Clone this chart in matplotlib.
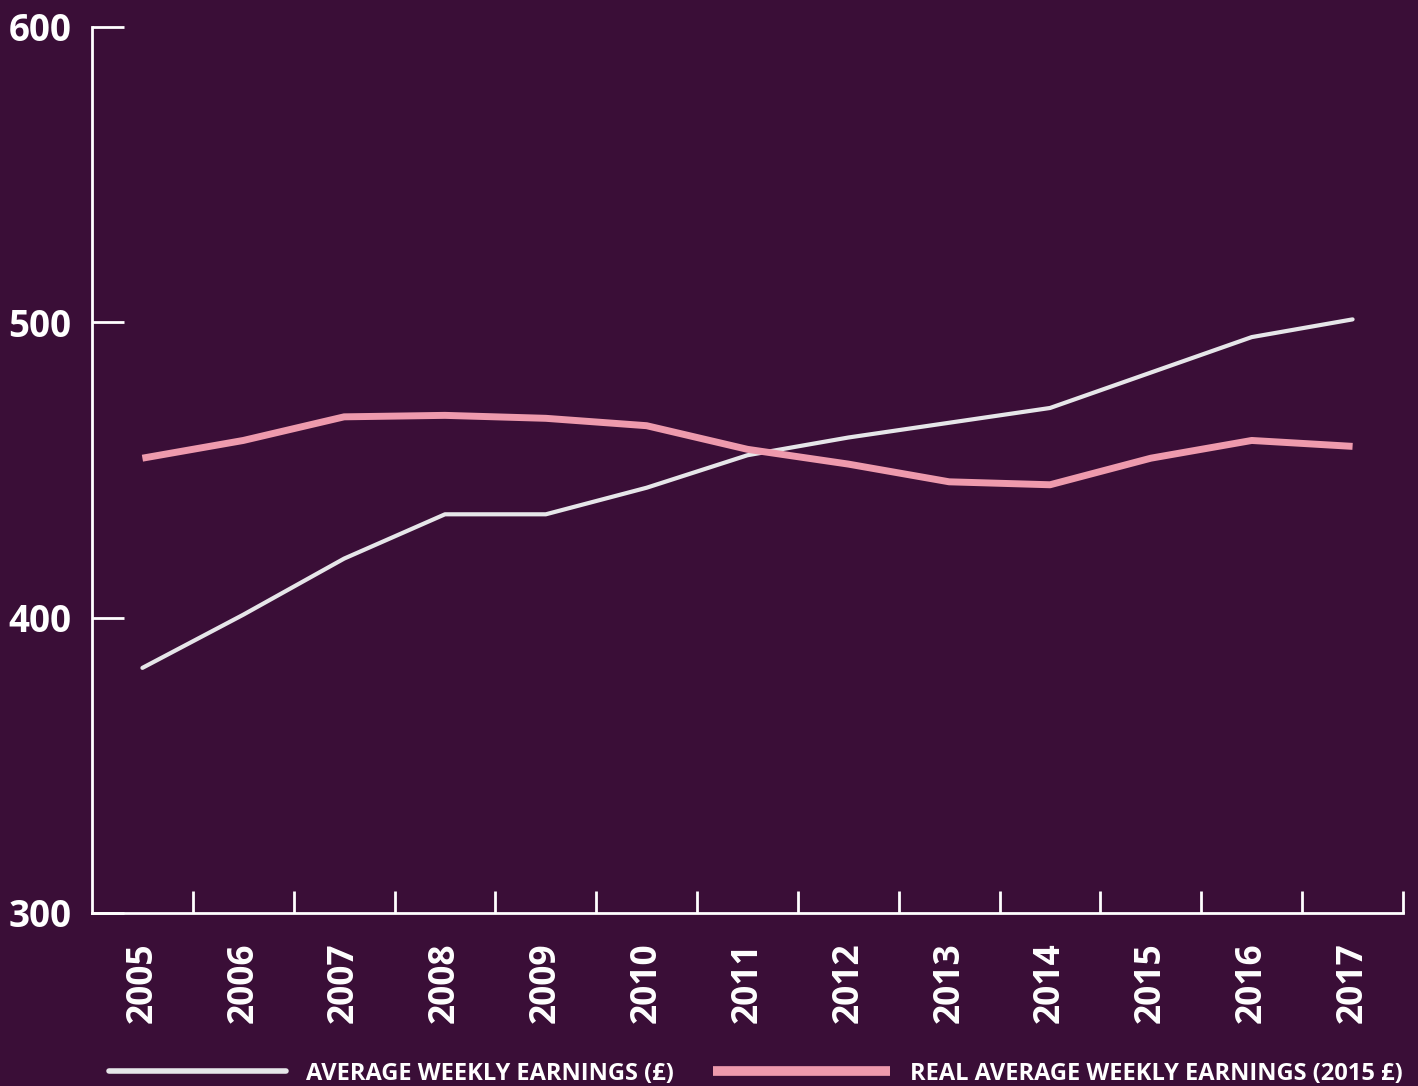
import numpy as np
import matplotlib.pyplot as plt

years = ['2005', '2006', '2007', '2008', '2009', '2010', '2011',
         '2012', '2013', '2014', '2015', '2016', '2017']
avg_weekly = [383, 401, 420, 435, 435, 444, 455, 461, 466, 471, 483, 495, 501]
real_weekly = [454, 460, 468, 468.5, 467.5, 465, 457, 452, 446, 445, 454, 460, 458]
y_ticks = [300, 400, 500, 600]

BG = '#3a0e37'
WHITE = '#e6e6e9'
PINK = '#ee9aad'
FONT = ['Open Sans', 'DejaVu Sans']

plt.rcParams['font.family'] = FONT
plt.rcParams['font.weight'] = 'bold'

fig = plt.figure(figsize=(14.18, 10.86), dpi=100, facecolor=BG)
ax = fig.add_axes([92/1418, 1 - 913/1086, (1403 - 92)/1418, (913 - 27)/1086])
ax.set_facecolor(BG)

x = np.arange(len(years))
ax.plot(x, avg_weekly, color=WHITE, lw=3.0, solid_capstyle='round',
        label='AVERAGE WEEKLY EARNINGS (£)')
ax.plot(x, real_weekly, color=PINK, lw=5.0, solid_capstyle='butt',
        label='REAL AVERAGE WEEKLY EARNINGS (2015 £)')

ax.set_xlim(-0.5, len(years) - 0.5)
ax.set_ylim(300, 600)

# boundary ticks between categories, labels at centres
ax.set_xticks(x + 0.5)
ax.set_xticklabels([])
ax.set_xticks(x, minor=True)
ax.set_xticklabels(years, minor=True, rotation=90, fontsize=25.5,
                   fontweight='bold', color='white')
ax.tick_params(axis='x', which='major', direction='in', length=16,
               width=2, color='white')
ax.tick_params(axis='x', which='minor', length=0, pad=21)

ax.set_yticks(y_ticks)
ax.set_yticklabels([str(v) for v in y_ticks], fontsize=26.5,
                   fontweight='bold', color='white')
ax.tick_params(axis='y', direction='in', length=23, width=2,
               color='white', pad=15)

for s in ['top', 'right']:
    ax.spines[s].set_visible(False)
for s in ['left', 'bottom']:
    ax.spines[s].set_color('white')
    ax.spines[s].set_linewidth(2)

leg = fig.legend(loc='lower left', bbox_to_anchor=(88/1418, -21/1086),
                 ncol=2, frameon=False, handlelength=7.5,
                 handletextpad=0.85, columnspacing=1.65,
                 prop={'family': FONT, 'weight': 'bold', 'size': 17})
for t in leg.get_texts():
    t.set_color('white')
leg.legend_handles[0].set_linewidth(4)
leg.legend_handles[1].set_linewidth(7)

fig.savefig('out.png', dpi=100, facecolor=BG)
